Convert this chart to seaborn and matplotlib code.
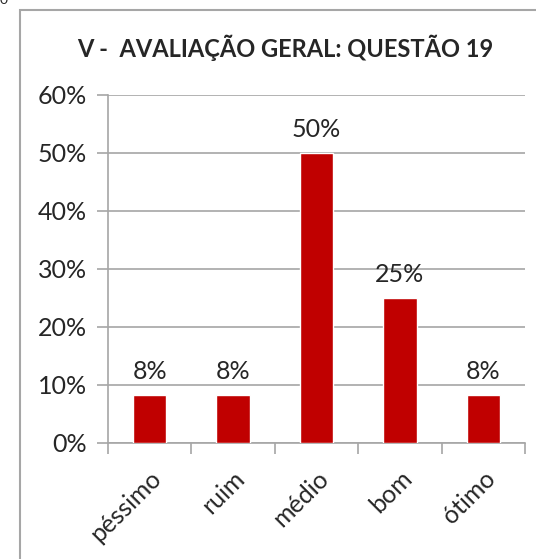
import matplotlib
matplotlib.use("Agg")
import matplotlib.pyplot as plt
import seaborn as sns
import pandas as pd
from matplotlib.patches import Rectangle
from matplotlib.ticker import FixedLocator

# data
categorias = ["péssimo", "ruim", "médio", "bom", "ótimo"]
percentuais = [100 / 12, 100 / 12, 50, 25, 100 / 12]
rotulos = ["8%", "8%", "50%", "25%", "8%"]
yticks = [0, 10, 20, 30, 40, 50, 60]
titulo = "V -  AVALIAÇÃO GERAL: QUESTÃO 19"

sns.set_style("white")
plt.rcParams["font.family"] = ["Lato", "DejaVu Sans"]

df = pd.DataFrame({"cat": categorias, "pct": percentuais})

W, H = 536, 559
fig = plt.figure(figsize=(W / 100, H / 100), dpi=100)
ax = fig.add_axes([108 / W, 1 - 443 / H, (525 - 108) / W, (443 - 95) / H])

sns.barplot(data=df, x="cat", y="pct", color="#C00000", width=0.4,
            saturation=1, ax=ax, zorder=3)

ax.set_ylim(0, 60)
ax.set_xlim(-0.5, len(categorias) - 0.5)
ax.set_yticks(yticks)
ax.set_yticklabels([f"{v}%" for v in yticks], fontsize=18)
ax.yaxis.grid(True, color="#a6a6a6", linewidth=1.2, zorder=0)
ax.set_axisbelow(True)

for i, (v, t) in enumerate(zip(percentuais, rotulos)):
    ax.text(i, v + 2.0, t, ha="center", va="bottom", fontsize=18)

ax.set_xlabel("")
ax.set_ylabel("")
ax.set_xticks(range(len(categorias)))
ax.set_xticklabels(categorias, rotation=45, ha="right",
                   rotation_mode="anchor", fontsize=18)
ax.tick_params(axis="x", which="major", length=0, pad=17)
ax.xaxis.set_minor_locator(FixedLocator([i - 0.5 for i in range(len(categorias) + 1)]))
ax.tick_params(axis="x", which="minor", length=8, color="#a6a6a6", width=1.2, bottom=True)
ax.tick_params(axis="y", length=8, color="#a6a6a6", width=1.2, left=True, pad=7)

for s in ["top", "right"]:
    ax.spines[s].set_visible(False)
for s in ["left", "bottom"]:
    ax.spines[s].set_color("#a6a6a6")
    ax.spines[s].set_linewidth(1.2)

fig.text(285 / W, 1 - 48 / H, titulo, ha="center", va="center",
         fontsize=17, fontweight="bold")

# borda do gráfico
fig.patches.append(Rectangle((20 / W, -0.1), 1.2, 1 - 10 / H + 0.1,
                             transform=fig.transFigure, fill=False,
                             edgecolor="#a6a6a6", linewidth=1.5))
fig.text(0.0, 1.0, "0", ha="left", va="center", fontsize=10)

fig.savefig("out.png", dpi=100)
